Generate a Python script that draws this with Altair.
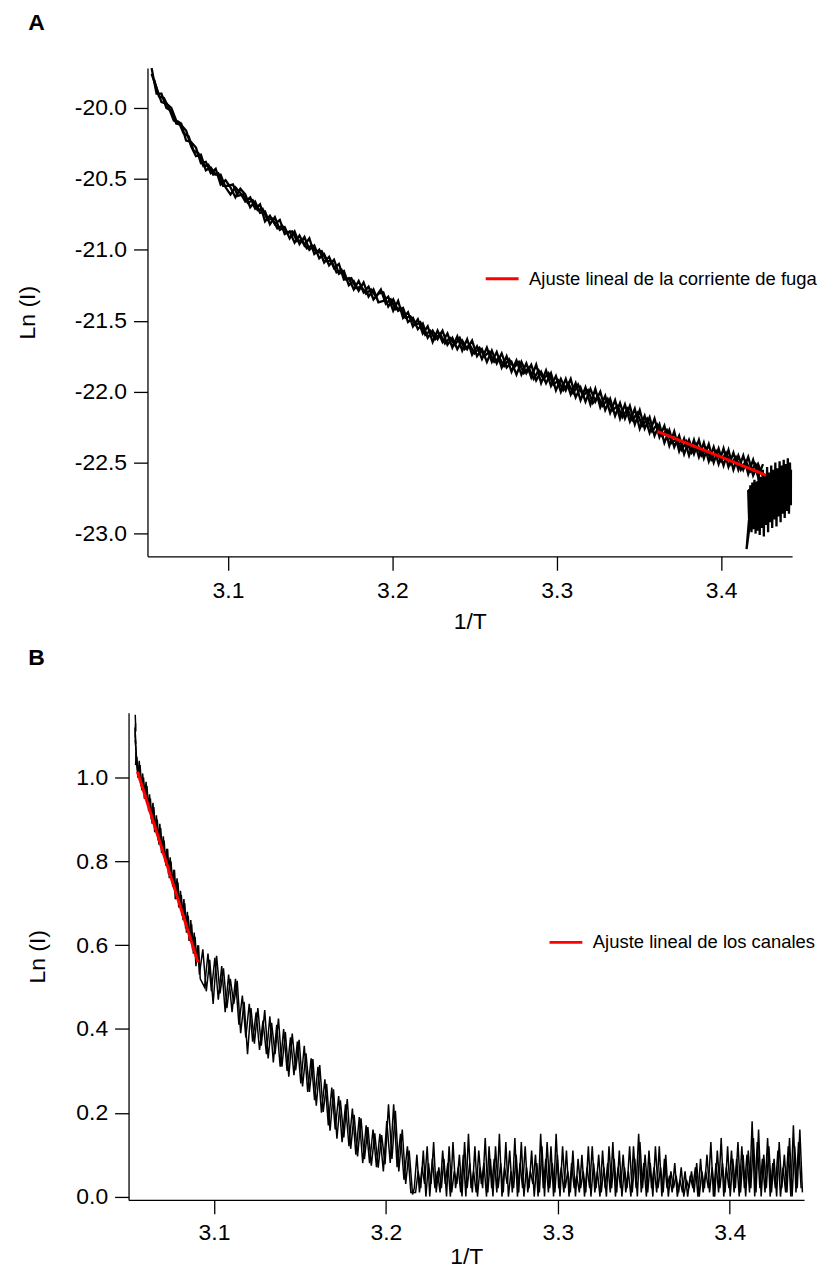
import altair as alt
import pandas as pd

FONT = "Liberation Sans"

# ---------------- Panel A ----------------
A_X0 = 3.0535
A_DX = 0.003
A_run1 = [
    -19.72, -19.90, -19.90, -20.00, -20.02, -20.11, -20.12, -20.16, -20.27, -20.34,
    -20.33, -20.44, -20.42, -20.47, -20.47, -20.56, -20.61, -20.56, -20.60, -20.66,
    -20.63, -20.71, -20.68, -20.80, -20.76, -20.82, -20.79, -20.89, -20.87, -20.95,
    -20.90, -20.97, -20.92, -21.03, -21.00, -21.09, -21.05, -21.13, -21.10, -21.21,
    -21.20, -21.28, -21.22, -21.30, -21.26, -21.35, -21.31, -21.30, -21.40, -21.35,
    -21.43, -21.41, -21.51, -21.48, -21.56, -21.52, -21.62, -21.57, -21.63, -21.57,
    -21.67, -21.62, -21.70, -21.64, -21.70, -21.64, -21.75, -21.70, -21.79, -21.71,
    -21.80, -21.73, -21.83, -21.79, -21.88, -21.79, -21.87, -21.81, -21.92, -21.86,
    -21.94, -21.87, -21.99, -21.91, -21.99, -21.91, -22.04, -21.97, -22.07, -21.98,
    -22.07, -22.00, -22.13, -22.05, -22.17, -22.08, -22.19, -22.10, -22.23, -22.13,
    -22.26, -22.18, -22.31, -22.23, -22.36, -22.27, -22.39, -22.31, -22.44, -22.34,
    -22.44, -22.34, -22.47, -22.37, -22.50, -22.40, -22.52, -22.41, -22.55, -22.45,
    -22.55, -22.46, -22.59, -22.51, -22.60,
]
A_run2 = [
    -19.76, -19.86, -19.96, -19.97, -20.00, -20.09, -20.11, -20.23, -20.24, -20.28,
    -20.39, -20.38, -20.46, -20.43, -20.54, -20.51, -20.56, -20.63, -20.57, -20.61,
    -20.70, -20.66, -20.74, -20.73, -20.82, -20.77, -20.86, -20.84, -20.92, -20.87,
    -20.96, -20.91, -21.00, -20.97, -21.06, -21.03, -21.11, -21.07, -21.17, -21.15,
    -21.25, -21.22, -21.29, -21.23, -21.33, -21.28, -21.37, -21.36, -21.33, -21.43,
    -21.36, -21.48, -21.44, -21.54, -21.49, -21.59, -21.54, -21.65, -21.57, -21.65,
    -21.59, -21.69, -21.61, -21.71, -21.63, -21.74, -21.68, -21.77, -21.69, -21.79,
    -21.72, -21.83, -21.75, -21.86, -21.78, -21.88, -21.80, -21.90, -21.81, -21.94,
    -21.85, -21.96, -21.89, -22.00, -21.91, -22.02, -21.94, -22.06, -21.97, -22.09,
    -21.98, -22.11, -22.03, -22.15, -22.06, -22.19, -22.09, -22.21, -22.12, -22.26,
    -22.17, -22.29, -22.19, -22.32, -22.24, -22.38, -22.28, -22.42, -22.33, -22.45,
    -22.34, -22.46, -22.36, -22.49, -22.39, -22.51, -22.40, -22.53, -22.43, -22.55,
    -22.45, -22.58, -22.48, -22.60, -22.51,
]
A_X0_3 = 3.0550
A_run3 = [
    -19.80, -19.92, -19.93, -20.00, -20.09, -20.10, -20.18, -20.20, -20.30, -20.32,
    -20.41, -20.40, -20.47, -20.46, -20.55, -20.55, -20.54, -20.62, -20.61, -20.67,
    -20.65, -20.72, -20.71, -20.79, -20.78, -20.85, -20.83, -20.88, -20.87, -20.94,
    -20.93, -20.99, -20.97, -21.02, -21.01, -21.08, -21.08, -21.16, -21.14, -21.21,
    -21.20, -21.27, -21.26, -21.31, -21.28, -21.33, -21.28, -21.38, -21.35, -21.42,
    -21.41, -21.48, -21.47, -21.53, -21.51, -21.60, -21.57, -21.63, -21.59, -21.66,
    -21.62, -21.67, -21.62, -21.70, -21.67, -21.73, -21.69, -21.75, -21.72, -21.79,
    -21.76, -21.82, -21.77, -21.83, -21.79, -21.87, -21.83, -21.91, -21.85, -21.91,
    -21.87, -21.95, -21.92, -21.99, -21.94, -22.01, -21.95, -22.03, -21.99, -22.08,
    -22.03, -22.10, -22.05, -22.13, -22.10, -22.18, -22.12, -22.20, -22.15, -22.24,
    -22.19, -22.28, -22.23, -22.31, -22.27, -22.36, -22.33, -22.41, -22.35, -22.43,
    -22.37, -22.45, -22.40, -22.48, -22.42, -22.49, -22.43, -22.51, -22.46, -22.55,
    -22.49, -22.56, -22.51, -22.58,
]
A_tail_x = [
    3.4165, 3.4172, 3.4155, 3.4170, 3.4178, 3.4185, 3.4190, 3.4197, 3.4203, 3.4210,
    3.4216, 3.4222, 3.4229, 3.4235, 3.4241, 3.4248, 3.4254, 3.4260, 3.4267, 3.4273,
    3.4280, 3.4286, 3.4292, 3.4299, 3.4305, 3.4311, 3.4318, 3.4324, 3.4330, 3.4337,
    3.4343, 3.4349, 3.4356, 3.4362, 3.4368, 3.4375, 3.4381, 3.4387, 3.4394, 3.4400,
    3.4406, 3.4413, 3.4419, 3.4425, 3.4430,
]
A_tail_y = [
    -22.70, -22.96, -23.11, -22.90, -22.66, -22.99, -22.64, -22.97, -22.62, -23.00,
    -22.65, -22.98, -22.58, -23.01, -22.60, -22.96, -22.55, -23.02, -22.58, -22.94,
    -22.53, -22.99, -22.57, -22.92, -22.52, -22.96, -22.55, -22.90, -22.50, -22.95,
    -22.54, -22.88, -22.49, -22.92, -22.52, -22.86, -22.48, -22.89, -22.51, -22.84,
    -22.47, -22.86, -22.50, -22.80, -22.55,
]
A_fit_x = [3.3612, 3.4273]
A_fit_y = [-22.28, -22.589]
A_fit_label = "Ajuste lineal de la corriente de fuga"
A_yticks = [-20.0, -20.5, -21.0, -21.5, -22.0, -22.5, -23.0]
A_ydomain = [-23.16, -19.72]
A_xdomain = [3.051, 3.4432]

X_TICKS = [3.1, 3.2, 3.3, 3.4]

# ---------------- Panel B ----------------
B1_top_x = [3.0542, 3.0545, 3.0540, 3.0546, 3.0542, 3.0549, 3.0545, 3.0553, 3.0550, 3.0558]
B1_top_y = [1.15, 1.11, 1.12, 1.08, 1.09, 1.05, 1.06, 1.02, 1.04, 1.00]
B1_steep_x0, B1_steep_dx = 3.0565, 0.001
B1_steep = [1.04, 0.98, 1.01, 0.95, 0.99, 0.93, 0.96, 0.90, 0.94, 0.87, 0.91, 0.85,
            0.89, 0.82, 0.86, 0.80, 0.83, 0.77, 0.81, 0.75, 0.78, 0.71, 0.76, 0.69,
            0.73, 0.67, 0.71, 0.64, 0.68, 0.61, 0.66, 0.59, 0.63, 0.55, 0.60, 0.53]
B1_mid_x0, B1_mid_dx = 3.0935, 0.002
B1_mid = [
    0.59, 0.49, 0.565, 0.46, 0.575, 0.485, 0.545, 0.45, 0.52, 0.46,
    0.515, 0.39, 0.465, 0.34, 0.45, 0.365, 0.45, 0.36, 0.445, 0.33,
    0.415, 0.34, 0.425, 0.31, 0.393, 0.286, 0.389, 0.302, 0.374, 0.263,
    0.342, 0.25, 0.328, 0.217, 0.314, 0.202, 0.269, 0.157, 0.256, 0.138,
    0.23, 0.141, 0.233, 0.114, 0.195, 0.096, 0.187, 0.089, 0.166, 0.074,
    0.151, 0.069, 0.147, 0.077, 0.22, 0.09, 0.205, 0.06, 0.16, 0.03,
    0.11, 0.005,
]
B1_floor_x0, B1_floor_dx = 3.2165, 0.0015
B1_floor = [
    0.02, 0.10, 0.01, 0.07, 0.03, 0.12, 0.00, 0.09, 0.02, 0.06,
    0.01, 0.11, 0.03, 0.08, 0.00, 0.13, 0.02, 0.07, 0.01, 0.10,
    0.00, 0.15, 0.02, 0.06, 0.01, 0.11, 0.03, 0.08, 0.00, 0.12,
    0.02, 0.09, 0.01, 0.15, 0.00, 0.07, 0.03, 0.11, 0.01, 0.14,
    0.00, 0.08, 0.02, 0.12, 0.01, 0.06, 0.03, 0.10, 0.00, 0.15,
    0.02, 0.09, 0.01, 0.12, 0.00, 0.15, 0.02, 0.07, 0.01, 0.11,
    0.00, 0.08, 0.02, 0.05, 0.01, 0.10, 0.00, 0.07, 0.02, 0.12,
    0.01, 0.06, 0.00, 0.11, 0.02, 0.08, 0.01, 0.13, 0.00, 0.07,
    0.02, 0.10, 0.01, 0.06, 0.00, 0.12, 0.02, 0.15, 0.01, 0.08,
    0.00, 0.11, 0.02, 0.07, 0.01, 0.12, 0.00, 0.09, 0.02, 0.05,
    0.01, 0.08, 0.00, 0.04, 0.01, 0.06, 0.00, 0.05, 0.02, 0.07,
    0.00, 0.09, 0.01, 0.06, 0.02, 0.13, 0.00, 0.08, 0.01, 0.14,
    0.00, 0.07, 0.02, 0.11, 0.01, 0.09, 0.00, 0.12, 0.02, 0.10,
    0.01, 0.18, 0.00, 0.13, 0.02, 0.09, 0.01, 0.14, 0.00, 0.08,
    0.02, 0.11, 0.00, 0.07, 0.01, 0.12, 0.00, 0.17, 0.01, 0.13, 0.02,
]
B2_top_x = [3.0544, 3.0541, 3.0547, 3.0544, 3.0552, 3.0556]
B2_top_y = [1.13, 1.10, 1.06, 1.03, 1.05, 1.01]
B2_steep_x0, B2_steep_dx = 3.0560, 0.001
B2_steep = [1.00, 1.03, 0.97, 1.00, 0.95, 0.98, 0.92, 0.95, 0.89, 0.93, 0.87, 0.90,
            0.84, 0.88, 0.82, 0.85, 0.79, 0.83, 0.76, 0.80, 0.74, 0.78, 0.71, 0.75,
            0.69, 0.72, 0.66, 0.70, 0.63, 0.67, 0.61, 0.65, 0.58, 0.62, 0.56, 0.60, 0.52]
B2_mid_x0, B2_mid_dx = 3.0945, 0.002
B2_mid = [
    0.50, 0.58, 0.49, 0.57, 0.47, 0.55, 0.44, 0.53, 0.44, 0.52,
    0.41, 0.48, 0.38, 0.46, 0.37, 0.44, 0.35, 0.42, 0.34, 0.43,
    0.32, 0.41, 0.31, 0.40, 0.30, 0.38, 0.29, 0.37, 0.27, 0.36,
    0.25, 0.33, 0.23, 0.31, 0.20, 0.28, 0.17, 0.26, 0.16, 0.24,
    0.13, 0.22, 0.12, 0.21, 0.10, 0.19, 0.08, 0.17, 0.08, 0.16,
    0.07, 0.15, 0.06, 0.18, 0.08, 0.22, 0.07, 0.15, 0.04, 0.12,
    0.01,
]
B2_floor_x0, B2_floor_dx = 3.21725, 0.0015
B2_floor = [
    0.01, 0.06, 0.02, 0.11, 0.00, 0.08, 0.03, 0.13, 0.01, 0.07,
    0.02, 0.09, 0.00, 0.12, 0.01, 0.06, 0.03, 0.10, 0.00, 0.13,
    0.02, 0.08, 0.01, 0.12, 0.00, 0.07, 0.02, 0.14, 0.01, 0.09,
    0.00, 0.12, 0.02, 0.08, 0.01, 0.13, 0.00, 0.06, 0.02, 0.10,
    0.01, 0.13, 0.00, 0.07, 0.02, 0.11, 0.00, 0.08, 0.01, 0.12,
    0.00, 0.13, 0.02, 0.08, 0.01, 0.10, 0.00, 0.12, 0.02, 0.06,
    0.01, 0.11, 0.00, 0.09, 0.02, 0.06, 0.01, 0.12, 0.00, 0.08,
    0.02, 0.10, 0.01, 0.07, 0.00, 0.12, 0.02, 0.09, 0.01, 0.11,
    0.00, 0.07, 0.02, 0.12, 0.01, 0.09, 0.00, 0.13, 0.02, 0.10,
    0.01, 0.08, 0.00, 0.12, 0.02, 0.07, 0.01, 0.10, 0.00, 0.06,
    0.02, 0.05, 0.01, 0.07, 0.00, 0.04, 0.02, 0.06, 0.01, 0.08,
    0.00, 0.06, 0.02, 0.10, 0.01, 0.07, 0.00, 0.11, 0.02, 0.08,
    0.01, 0.12, 0.00, 0.09, 0.02, 0.13, 0.01, 0.10, 0.00, 0.11,
    0.02, 0.14, 0.01, 0.16, 0.00, 0.10, 0.02, 0.12, 0.01, 0.09,
    0.00, 0.13, 0.02, 0.10, 0.01, 0.14, 0.00, 0.12, 0.02, 0.16, 0.01,
]
B_fit_x = [3.0555, 3.0907]
B_fit_y = [1.014, 0.559]
B_fit_label = "Ajuste lineal de los canales"
B_yticks = [0.0, 0.2, 0.4, 0.6, 0.8, 1.0]
B_ydomain = [-0.008, 1.155]
B_xdomain = [3.0503, 3.4432]


def grid(x0, dx, ys):
    return [round(x0 + k * dx, 5) for k in range(len(ys))]


def trace_df(parts, run):
    xs, ys = [], []
    for px, py in parts:
        xs += list(px)
        ys += list(py)
    return pd.DataFrame({"x": xs, "y": ys, "i": range(len(xs)), "run": run})


dfA = pd.concat([
    trace_df([(grid(A_X0, A_DX, A_run1), A_run1), (A_tail_x, A_tail_y)], "1"),
    trace_df([(grid(A_X0, A_DX, A_run2), A_run2)], "2"),
    trace_df([(grid(A_X0_3, A_DX, A_run3), A_run3)], "3"),
])
dfB = pd.concat([
    trace_df([(B1_top_x, B1_top_y),
              (grid(B1_steep_x0, B1_steep_dx, B1_steep), B1_steep),
              (grid(B1_mid_x0, B1_mid_dx, B1_mid), B1_mid),
              (grid(B1_floor_x0, B1_floor_dx, B1_floor), B1_floor)], "1"),
    trace_df([(B2_top_x, B2_top_y),
              (grid(B2_steep_x0, B2_steep_dx, B2_steep), B2_steep),
              (grid(B2_mid_x0, B2_mid_dx, B2_mid), B2_mid),
              (grid(B2_floor_x0, B2_floor_dx, B2_floor), B2_floor)], "2"),
])
dfFitA = pd.DataFrame({"x": A_fit_x, "y": A_fit_y, "label": A_fit_label})
dfFitB = pd.DataFrame({"x": B_fit_x, "y": B_fit_y, "label": B_fit_label})

LABEL_EXPR = "(datum.value < 0 ? '-' : '') + format(abs(datum.value), '.1f')"


def spacer(w):
    # empty, invisible cell that only shifts the panel to the right
    return alt.Chart(pd.DataFrame({"s": [0]})).mark_point(opacity=0).properties(
        width=w, height=1)


def panel(df, dffit, xdomain, ydomain, yticks, width, height, letter, title_offset,
          title_dx, y_title_pad, x_label_pad, x_title_pad, leg_x, leg_y, stroke, shift):
    x = alt.X("x:Q", scale=alt.Scale(domain=xdomain, nice=False, zero=False),
              axis=alt.Axis(values=X_TICKS, format=".1f", title="1/T",
                            labelPadding=x_label_pad, titlePadding=x_title_pad))
    y = alt.Y("y:Q", scale=alt.Scale(domain=ydomain, nice=False, zero=False),
              axis=alt.Axis(values=yticks, labelExpr=LABEL_EXPR, title="Ln (I)",
                            labelPadding=7, titlePadding=y_title_pad))
    trace = alt.Chart(df).mark_line(color="black", strokeWidth=stroke, clip=True).encode(
        x=x, y=y, detail="run:N", order="i:Q")
    fit = alt.Chart(dffit).mark_line(strokeWidth=3, clip=True).encode(
        x="x:Q", y="y:Q",
        color=alt.Color("label:N", scale=alt.Scale(range=["#ff0000"]),
                        legend=alt.Legend(title=None, orient="none", legendX=leg_x,
                                          legendY=leg_y, symbolType="stroke",
                                          symbolSize=1089, symbolStrokeWidth=3,
                                          labelFontSize=18.5, labelFont=FONT,
                                          labelColor="black", labelLimit=600,
                                          labelOffset=9, padding=0)))
    layer = alt.layer(trace, fit).properties(
        width=width, height=height,
        title=alt.TitleParams(letter, anchor="start", frame="bounds", fontSize=23,
                              fontWeight="bold", font=FONT, color="black", dx=title_dx,
                              offset=title_offset))
    return alt.hconcat(spacer(shift), layer, spacing=0)


chartA = panel(dfA, dfFitA, A_xdomain, A_ydomain, A_yticks, 647, 490, "A", 33, 11.5,
               34.8, 9.5, 8, 478, 193.5, 2.3, 7.3)
chartB = panel(dfB, dfFitB, B_xdomain, B_ydomain, B_yticks, 678, 489, "B", 43, 1.5,
               26.2, 7.5, 1.5, 542, 212.5, 1.5, 17.3)

chart = (
    alt.vconcat(chartA, chartB, spacing=13)
    .resolve_scale(x="independent", y="independent", color="independent")
    .resolve_legend(color="independent")
    .properties(padding={"left": 0, "top": 2, "right": 0, "bottom": 0})
    .configure_view(stroke=None)
    .configure_axis(grid=False, domainColor="black", tickColor="black",
                    domainWidth=1.3, tickWidth=1.3, tickSize=14,
                    labelColor="black", titleColor="black", labelFont=FONT,
                    titleFont=FONT, labelFontSize=23, titleFontSize=23,
                    titleFontWeight="normal")
)

chart.save("out.html", embed_options={"renderer": "svg", "actions": False})
